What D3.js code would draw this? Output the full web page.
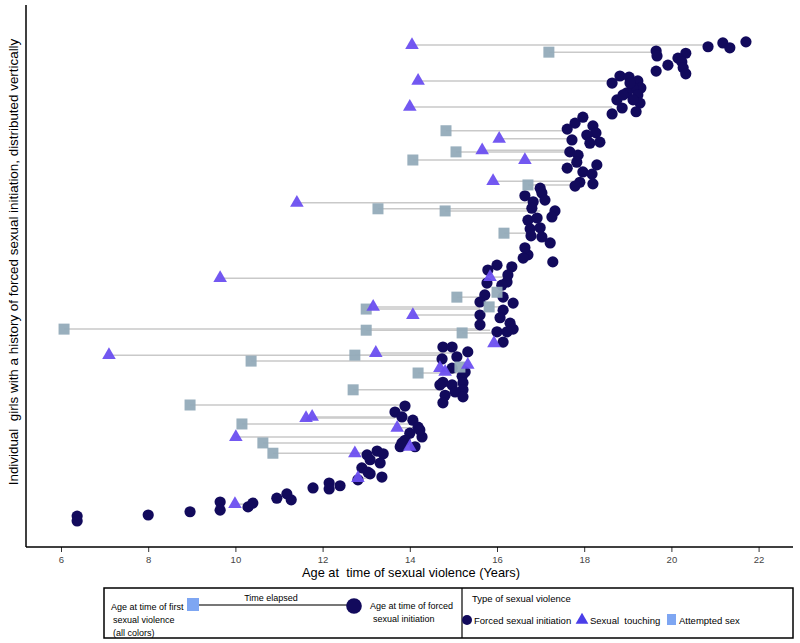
<!DOCTYPE html>
<html><head><meta charset="utf-8">
<script src="https://cdn.jsdelivr.net/npm/d3@7"></script>
<style>
body{margin:0;background:#fff;}
text{font-family:"Liberation Sans",Arial,sans-serif;}
</style></head>
<body><svg id="chart" width="800" height="643"></svg>
<script>
// Age at forced sexual initiation and vertical position of each girl
const forcedAge = [6.37,6.37,8.0,8.96,9.65,9.65,10.29,10.40,10.95,11.18,11.28,11.78,12.15,12.15,12.40,12.81,13.09,13.36,13.02,13.25,13.39,13.09,13.32,12.90,13.04,
 13.89,13.66,13.82,14.07,14.19,14.0,14.28,13.89,13.78,14.12,13.82,14.23,
 14.76,14.97,15.33,15.08,14.74,15.20,14.76,14.97,15.22,15.22,15.04,14.81,15.22,14.76,14.69,14.97,15.27,
 16.71,16.6,16.0,16.34,15.79,16.23,15.77,16.11,15.72,16.14,15.61,16.37,16.14,15.61,16.07,15.61,16.30,16.37,16.0,16.23,16.14,16.25,
 16.99,17.03,16.64,17.1,16.83,16.80,17.33,17.26,16.71,16.92,16.76,16.99,17.03,16.78,17.22,16.64,17.28,
 17.97,17.79,17.61,18.20,18.27,18.06,17.72,18.36,18.13,17.67,17.86,17.83,17.61,18.29,17.97,18.18,17.90,18.20,17.79,
 18.64,18.82,19.03,19.23,19.30,19.12,18.98,18.75,18.89,19.23,19.28,18.87,19.19,18.64,19.12,19.05,
 21.71,21.18,21.34,20.84,19.65,19.67,20.33,20.15,20.24,20.27,20.33,19.92,19.65];
const forcedPos = [5.7,4.8,5.9,6.5,8.3,6.8,7.4,8.1,9.0,9.8,8.7,10.9,11.8,10.7,11.3,12.4,13.5,12.9,17.0,17.7,17.2,16.1,15.5,14.6,13.8,
 26.0,24.9,24.0,23.4,22.1,21.0,20.3,19.7,18.5,18.5,19.2,21.6,
 36.9,36.9,36.0,35.1,34.7,31.5,30.4,29.9,30.3,29.0,28.6,28.0,27.7,26.6,29.9,33.0,32.3,
 53.9,53.3,52.0,51.7,51.1,48.9,48.7,48.3,46.5,46.1,45.2,45.0,43.7,42.8,42.3,41.0,41.3,40.2,39.7,39.7,37.8,50.2,
 66.2,65.3,64.8,64.0,63.7,62.5,62.0,60.9,60.3,60.7,58.7,58.9,57.2,57.4,56.1,55.2,52.6,
 79.3,78.2,77.1,77.7,76.4,76.0,75.1,74.7,74.5,72.9,72.3,71.0,69.9,70.5,69.2,68.8,67.3,67.0,66.6,
 85.6,86.9,86.7,86.0,84.7,84.7,83.8,82.5,83.4,83.4,81.9,81.0,80.3,79.9,82.5,85.6,
 93.2,93.0,92.1,92.3,91.5,90.6,91.1,90.2,89.5,88.4,87.3,88.9,87.8];

// Earlier sexual violence: type (T = sexual touching, S = attempted sex), first age, forced age, position
const firstType = ["T","S","T","T","S","T","S","T","S","T","T","S","T","S","S","S","T","T","S","S","S","S","T","T","S","S","S","T","T","S","T","S","S","T","T","S","T","S","S","T","T","S","T","T","S","S","T","T","T","T"];
const firstAge  = [14.05,17.19,14.19,14.0,14.83,16.05,15.06,15.66,14.07,16.64,15.91,16.71,11.41,13.27,14.81,16.16,9.65,15.84,16.0,15.08,15.82,13.0,13.16,14.07,6.07,13.0,15.20,15.93,7.10,12.74,13.22,10.36,14.19,14.69,14.81,15.15,15.33,12.70,8.96,11.62,11.76,10.15,13.71,10.01,10.63,10.86,12.74,14.0,12.81,9.99];
const endAge    = [20.84,19.65,18.64,18.64,17.61,17.72,17.67,17.86,17.83,17.61,17.83,17.90,16.76,16.80,16.99,16.76,15.79,16.25,16.14,15.72,16.14,15.61,15.61,15.61,15.68,15.84,16.0,16.14,14.74,14.76,14.97,14.74,15.20,15.08,15.22,15.27,15.38,14.69,13.89,13.66,13.82,14.0,14.19,14.07,13.82,13.02,13.25,14.12,13.09,10.29];
const firstPos  = [92.6,91.3,86.0,81.2,76.8,75.3,72.9,73.2,71.4,71.4,67.5,66.8,63.5,62.4,62.0,57.9,49.6,49.8,47.0,46.1,44.3,43.9,44.3,42.8,40.2,40.0,39.5,37.6,35.4,35.4,35.8,34.3,32.1,33.0,32.3,33.2,33.6,29.0,26.2,23.8,24.0,22.7,22.0,20.3,19.2,17.3,17.3,18.5,12.7,7.9];

const xTicks = [6,8,10,12,14,16,18,20,22];
const legendTypes = ["Forced sexual initiation","Sexual  touching","Attempted sex"];

const C_CIRCLE="#120a5c", C_TRI="#6b4ff0", C_SQ="#93abb9", C_LINE="#c9c9c9", C_LEG_SQ="#7ea6f2";

const svg = d3.select("#chart");
const x = d3.scaleLinear().domain([6,22]).range([61,758.6]);
const y = d3.scaleLinear().domain([0,100]).range([547,5]);

// axes
svg.append("line").attr("x1",26).attr("x2",26).attr("y1",5).attr("y2",547).attr("stroke","#000").attr("stroke-width",1.5);
const xa = svg.append("g").attr("transform","translate(0,547)")
  .call(d3.axisBottom(x).tickValues(xTicks).tickSize(5).tickPadding(4).tickFormat(d3.format("d")));
xa.select(".domain").remove();
svg.append("line").attr("x1",26).attr("x2",793).attr("y1",547).attr("y2",547).attr("stroke","#000").attr("stroke-width",1.5);
xa.selectAll(".tick line").attr("stroke","#333");
xa.selectAll(".tick text").attr("font-size",9.5).attr("fill","#444").attr("font-family","Liberation Sans, Arial, sans-serif");

svg.append("text").attr("x",411).attr("y",577).attr("text-anchor","middle").attr("font-size",12.8)
  .style("white-space","pre").text("Age at  time of sexual violence (Years)");
svg.append("text").attr("transform","translate(18,262) rotate(-90)").attr("text-anchor","middle").attr("font-size",13.4)
  .style("white-space","pre").text("Individual  girls with a history of forced sexual initiation, distributed vertically");

// lines
const idx = d3.range(firstAge.length);
svg.append("g").selectAll("line").data(idx).join("line")
  .attr("x1",i=>x(firstAge[i])).attr("x2",i=>x(endAge[i]))
  .attr("y1",i=>y(firstPos[i])).attr("y2",i=>y(firstPos[i]))
  .attr("stroke",C_LINE).attr("stroke-width",1.5);

// circles
svg.append("g").selectAll("circle").data(d3.range(forcedAge.length)).join("circle")
  .attr("cx",i=>x(forcedAge[i])).attr("cy",i=>y(forcedPos[i])).attr("r",5.6).attr("fill",C_CIRCLE);

// markers
const triPath = d3.symbol().type(d3.symbolTriangle).size(80);
const g = svg.append("g");
idx.forEach(i=>{
  const cx=x(firstAge[i]), cy=y(firstPos[i]);
  if(firstType[i]==="T"){
    g.append("path").attr("d",triPath()).attr("transform",`translate(${cx},${cy})`).attr("fill",C_TRI).attr("opacity",0.95);
  } else {
    g.append("rect").attr("x",cx-5.5).attr("y",cy-5.5).attr("width",11).attr("height",11).attr("fill",C_SQ).attr("opacity",0.95);
  }
});

// legend
const L = svg.append("g");
L.append("rect").attr("x",104).attr("y",588).attr("width",689).attr("height",50).attr("fill","none").attr("stroke","#000").attr("stroke-width",1.5);
L.append("line").attr("x1",462).attr("x2",462).attr("y1",588).attr("y2",638).attr("stroke","#000").attr("stroke-width",1.2);
const fs=9;
[["Age at time of first",111,610],["sexual violence",113,623],["(all colors)",113,636]].forEach(t=>
  L.append("text").attr("x",t[1]).attr("y",t[2]).attr("font-size",fs).text(t[0]));
L.append("line").attr("x1",199).attr("x2",348).attr("y1",605).attr("y2",605).attr("stroke","#777").attr("stroke-width",2);
L.append("rect").attr("x",187).attr("y",598).attr("width",12).attr("height",13).attr("fill",C_LEG_SQ);
L.append("circle").attr("cx",354).attr("cy",606).attr("r",7.8).attr("fill",C_CIRCLE);
L.append("text").attr("x",271).attr("y",601).attr("text-anchor","middle").attr("font-size",fs).text("Time elapsed");
L.append("text").attr("x",370).attr("y",609).attr("font-size",fs).text("Age at time of forced");
L.append("text").attr("x",373).attr("y",622).attr("font-size",fs).text("sexual initiation");
L.append("text").attr("x",472).attr("y",602).attr("font-size",9.5).text("Type of sexual violence");
L.append("circle").attr("cx",467).attr("cy",620).attr("r",5).attr("fill",C_CIRCLE);
L.append("text").attr("x",474).attr("y",623.5).attr("font-size",9.5).text(legendTypes[0]);
L.append("path").attr("d",d3.symbol().type(d3.symbolTriangle).size(70)()).attr("transform","translate(582,620)").attr("fill","#4a3ee8");
L.append("text").attr("x",590).attr("y",623.5).attr("font-size",9.5).style("white-space","pre").text(legendTypes[1]);
L.append("rect").attr("x",667).attr("y",614).attr("width",9).attr("height",11).attr("fill",C_LEG_SQ);
L.append("text").attr("x",679).attr("y",623.5).attr("font-size",9.5).text(legendTypes[2]);
</script></body></html>
